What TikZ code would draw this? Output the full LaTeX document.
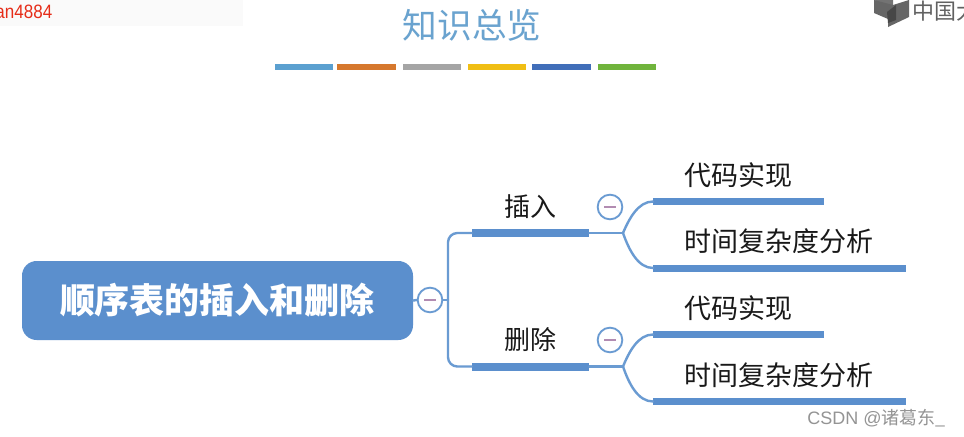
\documentclass[tikz,border=0pt]{standalone}
\usepackage{fontspec}
\setmainfont{Noto Sans CJK SC}
\newfontfamily\latinf{Liberation Sans}
\usetikzlibrary{calc}
\definecolor{mainblue}{HTML}{5B8FCD}
\definecolor{linkblue}{HTML}{6A9BD2}
\definecolor{titleblue}{HTML}{6AA3CF}
\tikzset{
  x=0.75pt,y=-0.75pt,
  bar/.style={draw=none,fill=mainblue,inner sep=0pt,minimum height=#1*0.75pt},
  link/.style={draw=linkblue,line width=1.8pt,line cap=round},
  colorbar/.style={draw=none,inner sep=0pt,minimum height=4.5pt,minimum width=#1*0.75pt},
  fold/.style={circle,draw=linkblue,fill=white,line width=1.4pt,minimum size=18.5pt,inner sep=0pt},
  leaf/.style={anchor=west,inner sep=0pt,font=\fontsize{20.25}{24}\selectfont,text=black!90},
  branch/.style={anchor=center,inner sep=0pt,font=\fontsize{19.5}{23}\selectfont,text=black!90},
  minus/.style={draw=black!35!violet!45,line width=1pt}
}
\begin{document}
\begin{tikzpicture}
\useasboundingbox (0,0) rectangle (964,436);
\clip (0,0) rectangle (964,436);
\fill[white] (0,0) rectangle (964,436);
\fill[black!2] (0,0) rectangle (243,26);
\node[anchor=east,inner sep=0pt,text={rgb,255:red,230;green,45;blue,25}] (tag) at (52.5,11.5) {\latinf\fontsize{14.5}{16}\selectfont\scalebox{.88}[1]{an4884}};
% title
\node[inner sep=0pt,text=titleblue,font=\fontsize{26}{30}\selectfont] (title) at (472,25) {知识总览};
\node[colorbar=58,fill={rgb,255:red,91;green,160;blue,208}] (c1) at (303.5,67) {};
\node[colorbar=59,fill={rgb,255:red,214;green,120;blue,45}] (c2) at (366.5,67) {};
\node[colorbar=58,fill={rgb,255:red,165;green,165;blue,165}] (c3) at (432,67) {};
\node[colorbar=58,fill={rgb,255:red,240;green,190;blue,20}] (c4) at (497,67) {};
\node[colorbar=59,fill={rgb,255:red,65;green,110;blue,185}] (c5) at (561.5,67) {};
\node[colorbar=58,fill={rgb,255:red,112;green,180;blue,60}] (c6) at (627,67) {};
% logo
\fill[black!55] (874,0) -- (893,9) -- (893,0) -- cycle;
\fill[black!60] (874,0) -- (874,13) -- (888,19) -- (888,27) -- (909,17) -- (909,0) -- (893,5) -- cycle;
\fill[black!72] (887,12) -- (896,5) -- (896,20) -- (888,23) -- cycle;
\node[anchor=west,inner sep=0pt,text=black!62,font=\fontsize{16.5}{20}\selectfont] (logo) at (912,11) {中国大};
% root
\node[draw=none,fill=mainblue,rounded corners=11pt,minimum width=293.25pt,minimum height=59.25pt,inner sep=0pt,text=white,font=\fontsize{26.25}{30}\selectfont\bfseries] (root) at (217.5,300.5) {顺序表的插入和删除};
\node[fold] (f0) at (430,300) {};
\draw[minus] ($(f0)+(-6,0)$) -- ($(f0)+(6,0)$);
% branches
\node[bar=8,minimum width=87.75pt] (b1) at (530.5,233) {};
\node[bar=8,minimum width=87.75pt] (b2) at (530.5,366.5) {};
\node[branch] (t1) at (530,207) {插入};
\node[branch] (t2) at (530,340) {删除};
\node[fold] (f1) at (610,207) {};
\node[fold] (f2) at (610,340) {};
\draw[minus] ($(f1)+(-6,0)$) -- ($(f1)+(6,0)$);
\draw[minus] ($(f2)+(-6,0)$) -- ($(f2)+(6,0)$);
% leaves
\node[bar=7.5,anchor=west,minimum width=128.25pt] (l1) at (653,201.5) {};
\node[bar=7,anchor=west,minimum width=189.75pt] (l2) at (653,268) {};
\node[bar=7.5,anchor=west,minimum width=128.25pt] (l3) at (653,334.5) {};
\node[bar=7.5,anchor=west,minimum width=189.75pt] (l4) at (653,401.5) {};
\node[leaf] (t3) at (684,175) {代码实现};
\node[leaf] (t4) at (684,241) {时间复杂度分析};
\node[leaf] (t5) at (684,308) {代码实现};
\node[leaf] (t6) at (684,375) {时间复杂度分析};
% connectors
\coordinate (bus) at (448,300);
\coordinate (j1) at (623,233);
\coordinate (j2) at (623,366.5);
\draw[link] (root.east) -- (f0.west);
\draw[link] (f0.east) -- (bus);
\draw[link,rounded corners=7pt] (bus) |- (b1.west);
\draw[link,rounded corners=7pt] (bus) |- (b2.west);
\draw[link] (b1.east) -- (j1);
\draw[link] (b2.east) -- (j2);
\draw[link] (j1) .. controls (629,219) and (638,201.5) .. (l1.west);
\draw[link] (j1) .. controls (629,250) and (638,268) .. (l2.west);
\draw[link] (j2) .. controls (629,352) and (638,334.5) .. (l3.west);
\draw[link] (j2) .. controls (629,384) and (638,401.5) .. (l4.west);
% watermark
\node[anchor=west,inner sep=0pt,text=black!42,font=\fontsize{13.5}{16}\selectfont] (wm) at (807,418) {{\latinf CSDN @}诸葛东\_};
\end{tikzpicture}
\end{document}
